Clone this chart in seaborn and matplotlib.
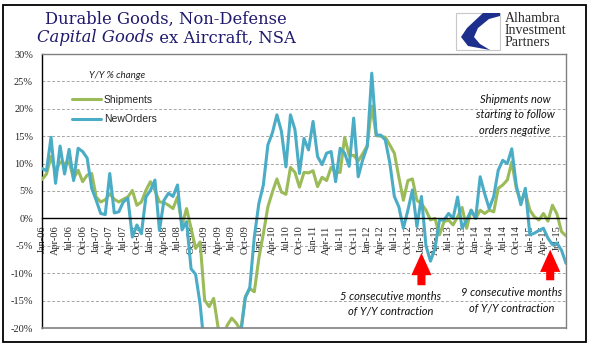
import numpy as np
import pandas as pd
import matplotlib
matplotlib.use('Agg')
import matplotlib.pyplot as plt
import seaborn as sns
from matplotlib.lines import Line2D
from matplotlib.patches import Rectangle, Polygon, FancyArrowPatch

# monthly Y/Y % change, Jan-06 .. Sep-15
months = pd.date_range('2006-01-01', periods=117, freq='MS')

shipments = [
    7.1, 8.1, 11.3, 8.5, 10.3, 10.0, 10.3, 7.3, 8.8, 6.7,
    7.9, 8.2, 3.9, 3.0, 3.4, 4.5, 3.5, 3.0, 3.5, 3.9,
    5.1, 2.4, 3.0, 5.1, 6.7, 5.1, 3.0, 2.9, 2.4, 1.8,
    3.9, -1.2, 1.8, -1.8, -5.5, -4.3, -14.9, -16.1, -14.6, -20.0,
    -22.0, -19.5, -18.2, -19.1, -20.5, -14.3, -12.8, -13.4, -7.3, -2.8,
    2.1, 4.8, 7.2, 4.8, 4.4, 9.3, 8.4, 5.7, 8.4, 8.3,
    8.7, 5.8, 7.5, 6.9, 9.3, 8.4, 8.4, 14.8, 11.5, 11.5,
    10.5, 11.8, 13.3, 20.5, 15.1, 15.0, 14.8, 13.4, 11.9, 7.5,
    3.3, 6.9, 7.2, 3.3, 2.7, 1.5, -0.3, 0.0, -3.0, -0.6,
    -0.3, -1.2, 0.3, 2.0, -1.8, 1.5, 0.0, 1.5, 0.9, 1.5,
    1.2, 5.5, 6.1, 7.0, 10.3, 5.5, 3.0, 4.8, 1.5, 0.3,
    -0.3, 0.9, -0.5, 2.4, 0.8, -2.4, -3.2]

new_orders = [
    9.1, 8.7, 14.8, 6.4, 13.2, 8.1, 12.6, 6.9, 12.8, 12.2,
    11.0, 5.5, 3.3, 0.9, 0.7, 8.2, 1.0, 1.2, 3.0, 3.7,
    -3.4, -1.2, -2.8, 3.9, 5.1, 7.0, -2.2, 3.3, 4.6, 4.0,
    6.1, -2.1, -0.6, -9.2, -10.2, -15.6, -24.0, -28.0, -31.0, -33.0,
    -32.0, -30.0, -27.0, -24.0, -21.0, -14.5, -12.6, -3.4, 2.7, 6.1,
    13.4, 15.6, 18.9, 15.9, 9.4, 18.9, 16.2, 8.2, 14.6, 12.5,
    17.7, 11.3, 9.8, 11.9, 12.2, 6.7, 12.8, 11.9, 9.5, 18.3,
    7.6, 10.7, 13.1, 26.5, 15.2, 15.2, 14.3, 10.1, 4.0, 2.1,
    -1.8, 1.5, 5.2, -1.5, 4.0, -5.0, -7.8, -5.5, -0.3, -0.3,
    0.9, 0.0, 3.9, -1.8, -0.3, 1.5, 0.0, 7.6, 4.5, 1.8,
    4.0, 8.8, 10.6, 10.0, 12.7, 6.0, 2.5, 5.5, -3.0, -2.7,
    -2.2, -1.8, -3.6, -4.8, -4.5, -5.8, -8.2]

tick_pos = list(range(0, len(months), 3))
tick_labels = [m.strftime('%b-%y') for m in months[::3]]
y_ticks = list(range(-20, 31, 5))

# red arrows: (month index, tail, tip)
arrows = [(84, -12.7, -5.8), (112.5, -11.8, -5.2)]

colors = {'Shipments': '#9BBB59', 'NewOrders': '#4BACC6'}

df = pd.DataFrame({'idx': range(len(months)), 'Shipments': shipments, 'NewOrders': new_orders})
long_df = df.melt(id_vars='idx', var_name='series', value_name='yoy')

sns.set_style('white')
plt.rcParams['font.family'] = ['Liberation Serif', 'DejaVu Serif']

W, H = 596, 358
fig = plt.figure(figsize=(W / 100, H / 100), dpi=100)


def fx(x):
    return x / W


def fy(y):
    return 1 - y / H


ax = fig.add_axes([fx(42), fy(328), fx(566) - fx(42), fy(54) - fy(328)])

for v in [-15, -10, -5, 5, 10, 15, 20, 25]:
    ax.axhline(v, color='#a6a6a6', lw=0.7, ls=(0, (3, 2)), zorder=1)

sns.lineplot(data=long_df, x='idx', y='yoy', hue='series', palette=colors,
             linewidth=2.2, ax=ax, legend=False, zorder=3)

ax.set_xlim(0, len(months) - 1)
ax.set_ylim(-20, 30)
ax.set_xlabel('')
ax.set_ylabel('')

ax.spines['bottom'].set_position(('data', 0))
ax.spines['bottom'].set_color('black')
ax.spines['bottom'].set_linewidth(1.0)
ax.spines['bottom'].set_zorder(4)
ax.spines['left'].set_color('black')
ax.spines['left'].set_linewidth(1.0)
for s in ['top', 'right']:
    ax.spines[s].set_color('#808080')
    ax.spines[s].set_linewidth(1.0)
ax.axhline(-20, color='#808080', lw=1.2, clip_on=False, zorder=4)

ax.set_xticks(tick_pos)
ax.set_xticklabels(tick_labels, rotation=90, fontsize=7.5)
ax.set_yticks(y_ticks)
ax.set_yticklabels([f'{v}%' for v in y_ticks], fontsize=7.5)
ax.tick_params(axis='x', direction='out', length=3.5, width=0.8, pad=1.5, color='black')
ax.tick_params(axis='y', direction='out', length=3.5, width=0.8, pad=3, color='black')

# legend
ax.text(0.144, 0.923, 'Y/Y % change', transform=ax.transAxes, family='Lato',
        style='italic', fontsize=7, ha='center', va='center', color='#222222')
handles = [Line2D([], [], color=colors[k], lw=2.2) for k in ['Shipments', 'NewOrders']]
ax.legend(handles, ['Shipments', 'NewOrders'], loc='upper left', bbox_to_anchor=(0.058, 0.85),
          frameon=False, prop={'family': 'Liberation Sans', 'size': 7.5},
          handlelength=2.7, handletextpad=0.3, labelspacing=0.9, borderpad=0, borderaxespad=0)

# arrows
for xm, tail, tip in arrows:
    ax.add_patch(FancyArrowPatch((xm, tail), (xm, tip), arrowstyle='simple,head_length=1.6,head_width=1.45,tail_width=0.58',
                                 mutation_scale=10, color='#FF0000', lw=0, zorder=5))

# annotations
note_kw = dict(ha='center', va='center', family='Lato', style='italic', fontsize=8,
               linespacing=1.45, color='#111111')
fig.text(fx(515), fy(115), 'Shipments now\nstarting to follow\norders negative', **note_kw)
fig.text(fx(391), fy(304), '5 consecutive months\nof Y/Y contraction', **note_kw)
fig.text(fx(512), fy(300.5), '9 consecutive months\nof Y/Y contraction', **note_kw)

# title
title_kw = dict(family='DejaVu Serif', fontsize=11.8, color='#1f1a6e', va='center', ha='left')
fig.text(fx(45), fy(19), 'Durable Goods, Non-Defense', **title_kw)
t1 = fig.text(fx(37), fy(38), 'Capital Goods', style='italic', **title_kw)
renderer = fig.canvas.get_renderer()
bb = t1.get_window_extent(renderer)
fig.text(bb.x1 / (W), fy(38), ' ex Aircraft, NSA', **title_kw)

# logo
fig.patches.append(Rectangle((fx(456), fy(50)), fx(500) - fx(456), fy(13) - fy(50),
                             transform=fig.transFigure, fill=False, ec='#c8c8c8', lw=0.8))
swoosh = [(500, 13), (483, 13), (467, 28), (461, 37), (468, 46), (490, 50), (480, 44),
          (474, 37), (478, 28), (489, 19), (500, 16)]
fig.patches.append(Polygon([(fx(x), fy(y)) for x, y in swoosh], closed=True,
                           transform=fig.transFigure, fc='#1c2f8c', ec='none'))
logo_kw = dict(family='Liberation Serif', fontsize=10, color='#2b2b2b', ha='left', va='center')
fig.text(fx(505), fy(19), 'Alhambra', **logo_kw)
fig.text(fx(505), fy(31), 'Investment', **logo_kw)
fig.text(fx(505), fy(43), 'Partners', **logo_kw)

# outer frame
fig.patches.append(Rectangle((fx(3), fy(342)), fx(586) - fx(3), fy(5) - fy(342),
                             transform=fig.transFigure, fill=False, ec='black', lw=1.3))

fig.savefig('out.png', dpi=100)
